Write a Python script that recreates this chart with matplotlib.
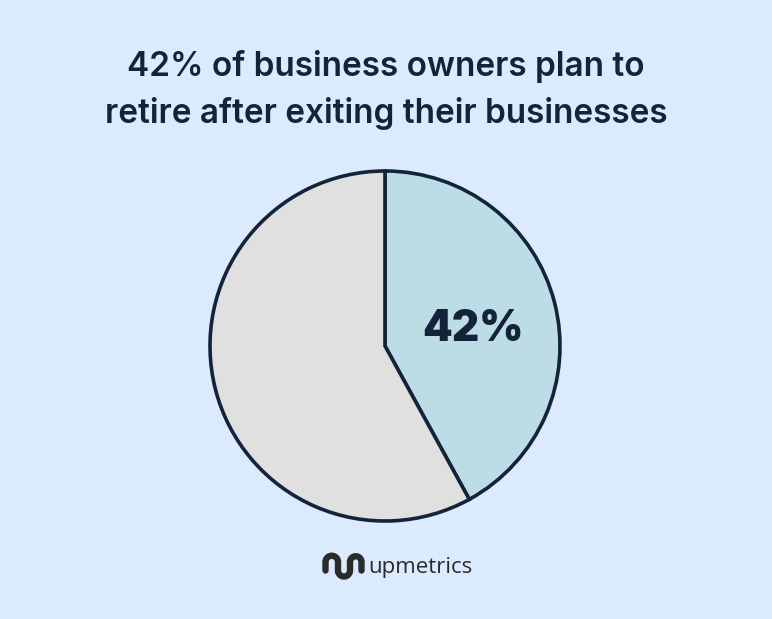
import numpy as np
import matplotlib
matplotlib.use('Agg')
import matplotlib.pyplot as plt

# data
shares = [42, 58]
slice_colors = ['#bcdde6', '#e0e0e0']
title_lines = ['42% of business owners plan to', 'retire after exiting their businesses']
brand = 'upmetrics'

W, H = 772, 619
bg = '#dbeafd'
navy = '#13233a'
grey = '#2b2b2b'

fig = plt.figure(figsize=(W / 100, H / 100), dpi=100, facecolor=bg)

# pie: centre (385, 346) px, radius 175 px
cx, cy, r = 385, 346, 175
pad = 1.1
ax = fig.add_axes([(cx - r * pad) / W, (H - cy - r * pad) / H, 2 * r * pad / W, 2 * r * pad / H])
wedges, _ = ax.pie(shares, colors=slice_colors, startangle=90, counterclock=False,
                   wedgeprops=dict(edgecolor=navy, linewidth=2.6))
ax.set_xlim(-pad, pad)
ax.set_ylim(-pad, pad)
ax.set_aspect('equal')
ax.axis('off')

w = wedges[0]
mid = np.deg2rad((w.theta1 + w.theta2) / 2)
ax.text(0.52 * np.cos(mid), 0.52 * np.sin(mid) - 0.1, f'{shares[0]}%', ha='center', va='baseline',
        fontsize=30.5, fontweight='black', color=navy, family='Inter')

# overlay in pixel coords for title and logo
ov = fig.add_axes([0, 0, 1, 1])
ov.set_xlim(0, W)
ov.set_ylim(H, 0)
ov.axis('off')
ov.patch.set_alpha(0)

for i, line in enumerate(title_lines):
    ov.text(386, 76 + i * 47, line, ha='center', va='baseline', fontsize=24,
            fontweight='semibold', color=navy, family='Inter')

# logo mark: arch, U, arch (y axis points down here)
t = np.linspace(np.pi, 0, 30)
xs, ys = [325.5], [570.5]
xs += list(331.75 + 6.25 * np.cos(t)); ys += list(562 - 6.25 * np.sin(t))
xs += [338]; ys += [570.5]
xs += list(344 + 6 * np.cos(t)); ys += list(570.5 + 6 * np.sin(t))
xs += [350]; ys += [562]
xs += list(355.75 + 5.75 * np.cos(t)); ys += list(562 - 5.75 * np.sin(t))
xs += [361.5]; ys += [570.5]
ov.plot(xs, ys, color=grey, lw=4.6, solid_capstyle='round', solid_joinstyle='round')

ov.text(368, 568, brand, ha='left', va='center', fontsize=16, color=grey, family='Open Sans')

fig.savefig('out.png', dpi=100, facecolor=bg)
